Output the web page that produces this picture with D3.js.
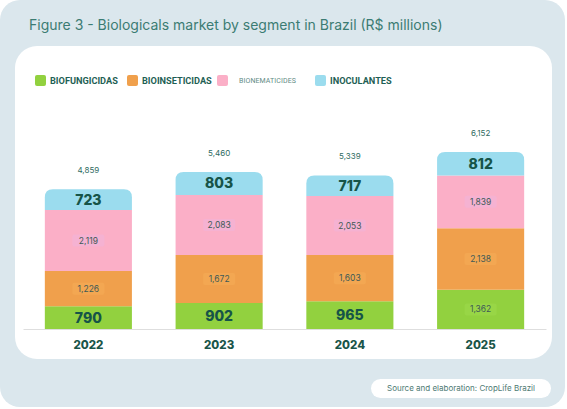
<!DOCTYPE html>
<html>
<head>
<meta charset="utf-8">
<script src="https://cdn.jsdelivr.net/npm/d3@7"></script>
<style>
  html, body { margin: 0; padding: 0; background: #fff; }
  svg { display: block; }
  .title { font-family: Inter, sans-serif; font-size: 14px; fill: #3b7c73; }
  .legend-text { font-family: Roboto, sans-serif; font-weight: 700; font-size: 9.2px; fill: #1f5f55; }
  .legend-text.light { font-weight: 400; font-size: 7px; fill: #5f8b85; letter-spacing: 0.1px; }
  .total { font-family: Inter, sans-serif; font-size: 8px; fill: #2f6b62; }
  .big { font-family: Inter, sans-serif; font-weight: 800; font-size: 14px; fill: #165448; }
  .small { font-family: Inter, sans-serif; font-size: 8.5px; fill: #3f5a57; }
  .x.axis text { font-family: Inter, sans-serif; font-weight: 800; font-size: 11.5px; fill: #1a5549; }
  .source { font-family: Inter, sans-serif; font-size: 8px; fill: #4d7a73; }
</style>
</head>
<body>
<svg id="chart" width="567" height="409"></svg>
<script>
// values in R$ millions
const years = ['2022', '2023', '2024', '2025'];
const biofungicidas  = [790, 902, 965, 1362];
const bioinseticidas = [1226, 1672, 1603, 2138];
const bionematicides = [2119, 2083, 2053, 1839];
const inoculantes    = [723, 803, 717, 812];
const totals = [4859, 5460, 5339, 6152];

const keys = ['biofungicidas', 'bioinseticidas', 'bionematicides', 'inoculantes'];
const legendLabels = ['BIOFUNGICIDAS', 'BIOINSETICIDAS', 'BIONEMATICIDES', 'INOCULANTES'];
const colors = ['#92d13f', '#f0a04c', '#fbafc7', '#9bdcee'];
const boxColors = ['#98d646', '#f3a752', '#f5b2d2', '#a0dff0'];

const rows = years.map((y, i) => ({
    year: y,
    biofungicidas: biofungicidas[i],
    bioinseticidas: bioinseticidas[i],
    bionematicides: bionematicides[i],
    inoculantes: inoculantes[i],
    total: totals[i]
}));

const svg = d3.select('#chart');

// background panel + white card
svg.append('rect').attr('x', 0).attr('y', 0).attr('width', 565).attr('height', 407)
    .attr('rx', 20).attr('fill', '#dbe7ed');
svg.append('rect').attr('x', 15).attr('y', 46).attr('width', 537).attr('height', 313)
    .attr('rx', 22).attr('fill', '#ffffff');

svg.append('text').attr('class', 'title').attr('x', 29).attr('y', 30)
    .text('Figure 3 - Biologicals market by segment in Brazil (R$ millions)');

// legend
const legendX = [35, 127, 217, 315];
const legend = svg.append('g').attr('class', 'legend');
keys.forEach((k, i) => {
    legend.append('rect').attr('x', legendX[i]).attr('y', 75).attr('width', 11).attr('height', 11)
        .attr('rx', 2).attr('fill', colors[i]);
    legend.append('text')
        .attr('class', i === 2 ? 'legend-text light' : 'legend-text')
        .attr('x', legendX[i] + (i === 2 ? 22 : 15)).attr('y', i === 2 ? 83 : 84)
        .text(legendLabels[i]);
});

// scales
const xScale = d3.scaleBand().domain(years).range([23, 546]).paddingInner(0.334).paddingOuter(0.167);
const yScale = d3.scaleLinear().domain([0, d3.max(totals)]).range([329, 152]);

const stacked = d3.stack().keys(keys)(rows);
const chart = svg.append('g').attr('class', 'chart');

const r = 8;
function topRounded(x, y0, y1, w) {
    // rect from y1 (top) to y0 (bottom) with rounded top corners
    return 'M' + x + ',' + y0 +
        'V' + (y1 + r) +
        'Q' + x + ',' + y1 + ' ' + (x + r) + ',' + y1 +
        'H' + (x + w - r) +
        'Q' + (x + w) + ',' + y1 + ' ' + (x + w) + ',' + (y1 + r) +
        'V' + y0 + 'Z';
}

stacked.forEach((series, si) => {
    const g = chart.append('g').attr('class', 'series ' + series.key);
    g.selectAll('path')
        .data(series)
        .enter()
        .append('path')
        .attr('fill', colors[si])
        .attr('d', d => {
            const x = xScale(d.data.year), w = xScale.bandwidth();
            const y0 = yScale(d[0]), y1 = yScale(d[1]);
            if (si === stacked.length - 1) return topRounded(x, y0, y1, w);
            return 'M' + x + ',' + y0 + 'V' + y1 + 'H' + (x + w) + 'V' + y0 + 'Z';
        });

    // value labels
    series.forEach(d => {
        const v = d.data[series.key];
        const cx = xScale(d.data.year) + xScale.bandwidth() / 2;
        const cy = (yScale(d[0]) + yScale(d[1])) / 2;
        if (v < 1000) {
            g.append('text').attr('class', 'big').attr('x', cx).attr('y', cy + 5)
                .attr('text-anchor', 'middle').text(d3.format(',')(v));
        } else {
            g.append('rect').attr('x', cx - 16).attr('y', cy - 6).attr('width', 32).attr('height', 12)
                .attr('rx', 2).attr('fill', boxColors[si]);
            g.append('text').attr('class', 'small').attr('x', cx).attr('y', cy + 3)
                .attr('text-anchor', 'middle').text(d3.format(',')(v));
        }
    });
});

// totals above bars
chart.selectAll('.total')
    .data(rows)
    .enter()
    .append('text')
    .attr('class', 'total')
    .attr('x', d => xScale(d.year) + xScale.bandwidth() / 2)
    .attr('y', d => yScale(d.total) - 16)
    .attr('text-anchor', 'middle')
    .text(d => d3.format(',')(d.total));

// x axis
const xAxis = chart.append('g').attr('class', 'x axis')
    .attr('transform', 'translate(0,' + yScale(0) + ')')
    .call(d3.axisBottom(xScale).tickSize(0).tickPadding(12));
xAxis.select('.domain').attr('stroke', '#dedede');

// source pill
svg.append('rect').attr('x', 371).attr('y', 379).attr('width', 180).attr('height', 19)
    .attr('rx', 9.5).attr('fill', '#ffffff');
svg.append('text').attr('class', 'source').attr('x', 461).attr('y', 391)
    .attr('text-anchor', 'middle').text('Source and elaboration: CropLife Brazil');
</script>
</body>
</html>
